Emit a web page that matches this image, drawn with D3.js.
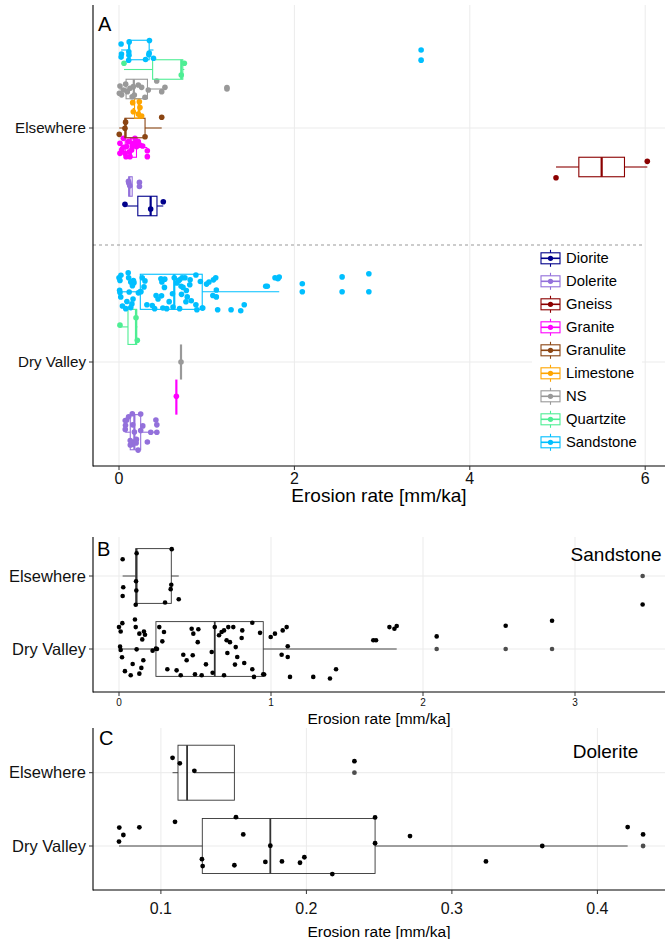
<!DOCTYPE html>
<html>
<head>
<meta charset="utf-8">
<script src="https://cdn.jsdelivr.net/npm/d3@7"></script>
<style>
  body { margin: 0; background: #fff; }
  svg { display: block; font-family: "Liberation Sans", Arial, sans-serif; }
</style>
</head>
<body>
<svg id="chart" width="665" height="939"></svg>
<script>
// category positions on the (flipped) y axis: Dry Valley = 1, Elsewhere = 2
const locations = ["Dry Valley", "Elsewhere"];
const rocks = ["Diorite", "Dolerite", "Gneiss", "Granite", "Granulite", "Limestone", "NS", "Quartzite", "Sandstone"];
const rockColors = ["#00008B", "#9370DB", "#8B0000", "#FF00FF", "#8B4513", "#FFA500", "#999999", "#4EEE94", "#00BFFF"];

const ticksA = [0, 2, 4, 6];
const ticksB = [0, 1, 2, 3];
const ticksC = [0.1, 0.2, 0.3, 0.4];

// erosion rates [mm/ka], with jitter offsets (fraction of the box half height)
const dioriteEW = [0.068, 0.361, 0.505];
const dioriteEWJitter = [-0.17, 0.31, -0.44];

const doleriteEW = [0.108, 0.113, 0.123, 0.233];
const doleriteEWJitter = [-0.54, -0.34, -0.07, -0.42];

const gneissEW = [4.983, 6.024];
const gneissEWJitter = [1.1, -0.58];

const graniteEW = [0.011, 0.030, 0.049, 0.068, 0.087, 0.106, 0.125, 0.144, 0.163, 0.182, 0.201,
  0.220, 0.239, 0.270, 0.323, 0.323, 0.011, 0.049, 0.118, 0.156, 0.194, 0.080];
const graniteEWJitter = [-0.43, 0.26, -0.94, 0.6, -0.09, -0.6, 0.94, 0.26, -0.43, -0.94, -0.09,
  -0.6, -0.26, -0.15, 0.33, 0.94, 0.6, -0.02, 0.43, -0.09, -0.6, 0.94];

const granuliteEW = [0.003, 0.068, 0.075, 0.297, 0.487];
const granuliteEWJitter = [0.65, 0.03, -0.6, 0.89, -1.1];

const limestoneEW = [0.156, 0.232, 0.239, 0.163, 0.258, 0.220];
const limestoneEWJitter = [-0.6, -0.7, -0.09, 0.33, 0.77, 0.56];

const nsEW = [0.004, 0.011, 0.030, 0.049, 0.076, 0.095, 0.125, 0.150, 0.163, 0.175, 0.220,
  0.258, 0.296, 0.334, 0.430, 0.487, 0.524, 1.231];
const nsEWJitter = [0.44, -0.31, 0.6, 0.10, -0.5, 0.27, -0.07, 0.8, -0.24, 0.62, -0.41,
  -0.17, 0.85, 0.10, -0.82, 0.27, -0.17, -0.15];

const quartziteEW = [0.057, 0.710, 0.745];
const quartziteEWJitter = [-0.64, 0.56, -0.64];

const sandstoneEW = [0.024, 0.116, 0.347, 0.028, 0.024, 0.112, 0.114, 0.110, 0.344, 0.340, 0.303, 0.393, 3.445];
const sandstoneEWJitter = [-0.61, -0.83, -0.98, 0.41, 0.73, 0.19, 0.53, 1.05, 0.32, 0.48, 0.97, 0.85, 1.04];

const doleriteDV = [0.0714, 0.0742, 0.0712, 0.0852, 0.1097, 0.1282, 0.1287, 0.1516, 0.1566, 0.1505, 0.1718,
  0.1752, 0.1832, 0.1956, 0.1986, 0.2178, 0.2472, 0.2472, 0.2712, 0.3234, 0.3621, 0.4208, 0.4314];
const doleriteDVJitter = [-0.67, -0.40, -0.16, -0.68, -0.88, 0.48, 0.73, -1.05, -0.42, 0.70, 0.58,
  -0.01, 0.56, 0.61, 0.41, 1.02, -1.04, -0.10, -0.36, 0.56, 0.0, -0.69, -0.42];

const graniteDV = [0.654];
const graniteDVJitter = [-0.05];

const nsDV = [0.707];
const nsDVJitter = [0];

const quartziteDV = [0.011, 0.194, 0.209];
const quartziteDVJitter = [-0.1, -0.52, 0.76];

const sandstoneDV = [0.022, 0.0, 0.011, 0.105, 0.110, 0.134, 0.164, 0.153, 0.171, 0.007, 0.011, 0.116, 0.221,
  0.243, 0.285, 0.160, 0.147, 0.134, 0.039, 0.077, 0.265, 0.296, 0.478, 0.522, 0.489, 0.518, 0.423, 0.485,
  0.445, 0.610, 0.572, 0.318, 0.379, 0.406, 0.500, 0.544, 0.616, 0.630, 0.658, 0.675, 0.691, 0.719, 0.752,
  0.811, 0.877, 0.807, 0.928, 0.708, 0.730, 0.768, 0.713, 0.778, 0.824, 0.763, 0.877, 0.691, 0.888, 0.949,
  0.955, 0.998, 1.026, 1.077, 1.103, 1.110, 1.070, 1.110, 1.125, 1.278, 1.388, 1.428, 1.673, 1.691, 1.779,
  1.812, 1.827, 2.090, 2.544, 2.849, 0.020, 0.090, 0.250];
const sandstoneDVJitter = [-0.945, -0.80, -0.64, -1.08, -0.80, -0.56, -0.64, -0.35, -0.52, -0.085, 0.036, 0.012, 0.06,
  -0.012, -0.28, 0.41, 0.69, 0.90, 0.81, 0.96, -0.80, -0.62, -0.74, -0.72, -0.56, -0.25, 0.21, 0.23,
  0.41, 0.11, 0.56, 0.74, 0.78, 0.96, 0.92, 0.96, 0.87, -0.80, -0.50, -0.62, -0.68, -0.80, -0.80,
  -0.68, -0.96, -0.40, -0.59, -0.32, -0.25, -0.07, 0.145, 0.29, 0.51, 0.57, 0.74, 0.96, 1.02, 0.92,
  0.93, -0.44, -0.56, -0.68, -0.80, -0.10, 0.21, 0.29, 1.02, 1.02, 1.08, 0.74, -0.32, -0.32, -0.80,
  -0.74, -0.84, -0.46, -0.85, -1.03, 0.30, 0.55, 0.0];

const groups = [
  { loc: "Elsewhere", rock: "Diorite", values: dioriteEW, jitter: dioriteEWJitter },
  { loc: "Elsewhere", rock: "Dolerite", values: doleriteEW, jitter: doleriteEWJitter },
  { loc: "Elsewhere", rock: "Gneiss", values: gneissEW, jitter: gneissEWJitter },
  { loc: "Elsewhere", rock: "Granite", values: graniteEW, jitter: graniteEWJitter },
  { loc: "Elsewhere", rock: "Granulite", values: granuliteEW, jitter: granuliteEWJitter },
  { loc: "Elsewhere", rock: "Limestone", values: limestoneEW, jitter: limestoneEWJitter },
  { loc: "Elsewhere", rock: "NS", values: nsEW, jitter: nsEWJitter },
  { loc: "Elsewhere", rock: "Quartzite", values: quartziteEW, jitter: quartziteEWJitter },
  { loc: "Elsewhere", rock: "Sandstone", values: sandstoneEW, jitter: sandstoneEWJitter },
  { loc: "Dry Valley", rock: "Dolerite", values: doleriteDV, jitter: doleriteDVJitter },
  { loc: "Dry Valley", rock: "Granite", values: graniteDV, jitter: graniteDVJitter },
  { loc: "Dry Valley", rock: "NS", values: nsDV, jitter: nsDVJitter },
  { loc: "Dry Valley", rock: "Quartzite", values: quartziteDV, jitter: quartziteDVJitter },
  { loc: "Dry Valley", rock: "Sandstone", values: sandstoneDV, jitter: sandstoneDVJitter }
];

// ggplot style box stats (type 7 quantiles, 1.5 IQR whiskers)
function boxStats(values) {
  const s = values.slice().sort(d3.ascending);
  const q1 = d3.quantile(s, 0.25), med = d3.quantile(s, 0.5), q3 = d3.quantile(s, 0.75);
  const iqr = q3 - q1;
  const inside = s.filter(v => v >= q1 - 1.5 * iqr && v <= q3 + 1.5 * iqr);
  return {
    q1: q1, med: med, q3: q3,
    lo: d3.min(inside), hi: d3.max(inside),
    out: s.filter(v => v < q1 - 1.5 * iqr || v > q3 + 1.5 * iqr)
  };
}

const svg = d3.select("#chart");
const color = d3.scaleOrdinal().domain(rocks).range(rockColors);
const locPos = loc => locations.indexOf(loc) + 1;

function drawPanel(p) {
  const g = svg.append("g");
  const x = p.x, y = p.y;

  // grid
  g.selectAll(".vgrid").data(p.ticks).join("line")
    .attr("x1", d => x(d)).attr("x2", d => x(d))
    .attr("y1", p.top).attr("y2", p.bottom)
    .attr("stroke", "#ebebeb").attr("stroke-width", 1);
  g.selectAll(".hgrid").data([1, 2]).join("line")
    .attr("x1", p.left).attr("x2", p.right)
    .attr("y1", d => y(d)).attr("y2", d => y(d))
    .attr("stroke", "#ebebeb").attr("stroke-width", 1);

  if (p.extra) p.extra(g);

  // boxes
  p.groups.forEach(grp => {
    const present = p.groups.filter(o => o.loc === grp.loc);
    const n = present.length, i = present.indexOf(grp);
    const slot = 0.75 / n;
    const cPos = locPos(grp.loc) - 0.375 + (i + 0.5) * slot;
    const cy = y(cPos);
    const half = Math.abs(y(cPos + slot / 2) - cy);
    const st = boxStats(grp.values);
    const col = p.colored ? color(grp.rock) : "#333333";
    const bg = g.append("g");

    bg.append("line").attr("x1", x(st.lo)).attr("x2", x(st.q1)).attr("y1", cy).attr("y2", cy)
      .attr("stroke", col).attr("stroke-width", p.lw);
    bg.append("line").attr("x1", x(st.q3)).attr("x2", x(st.hi)).attr("y1", cy).attr("y2", cy)
      .attr("stroke", col).attr("stroke-width", p.lw);
    bg.append("rect")
      .attr("x", x(st.q1)).attr("y", cy - half)
      .attr("width", Math.max(0, x(st.q3) - x(st.q1))).attr("height", 2 * half)
      .attr("fill", "none").attr("stroke", col).attr("stroke-width", p.lw);
    bg.append("line").attr("x1", x(st.med)).attr("x2", x(st.med))
      .attr("y1", cy - half).attr("y2", cy + half)
      .attr("stroke", col).attr("stroke-width", p.lw * 2);
    bg.selectAll("circle.out").data(st.out).join("circle")
      .attr("cx", d => x(d)).attr("cy", cy).attr("r", p.r)
      .attr("fill", p.colored ? col : "#4d4d4d");

    bg.selectAll("circle.pt").data(grp.values).join("circle")
      .attr("cx", d => x(d))
      .attr("cy", (d, k) => cy + grp.jitter[k] * half)
      .attr("r", p.r)
      .attr("fill", p.colored ? col : "#000");
  });

  // axes
  g.append("line").attr("x1", p.left).attr("x2", p.left).attr("y1", p.top).attr("y2", p.bottom + 0.5)
    .attr("stroke", "#000").attr("stroke-width", 1.1);
  g.append("line").attr("x1", p.left).attr("x2", p.right).attr("y1", p.bottom).attr("y2", p.bottom)
    .attr("stroke", "#000").attr("stroke-width", 1.1);

  g.selectAll(".ytick").data(locations).join("line")
    .attr("x1", p.left - 4).attr("x2", p.left)
    .attr("y1", d => y(locPos(d))).attr("y2", d => y(locPos(d)))
    .attr("stroke", "#333").attr("stroke-width", 1);
  g.selectAll(".ylab").data(locations).join("text")
    .attr("x", p.left - 7).attr("y", d => y(locPos(d)))
    .attr("dy", "0.35em").attr("text-anchor", "end")
    .attr("font-size", p.yFont).attr("fill", "#111")
    .text(d => d);

  g.selectAll(".xtick").data(p.ticks).join("line")
    .attr("x1", d => x(d)).attr("x2", d => x(d))
    .attr("y1", p.bottom).attr("y2", p.bottom + 4)
    .attr("stroke", "#333").attr("stroke-width", 1);
  g.selectAll(".xlab").data(p.ticks).join("text")
    .attr("x", d => x(d)).attr("y", p.bottom + p.xLabOff)
    .attr("text-anchor", "middle")
    .attr("font-size", p.xFont).attr("fill", "#111")
    .text(p.fmt);
  g.append("text")
    .attr("x", (p.left + p.right) / 2).attr("y", p.bottom + p.titleOff)
    .attr("text-anchor", "middle").attr("font-size", p.titleFont).attr("fill", "#000")
    .text("Erosion rate [mm/ka]");

  g.append("text").attr("x", p.tagX).attr("y", p.tagY)
    .attr("font-size", 20).attr("fill", "#000").text(p.tag);

  if (p.note) {
    g.append("text").attr("x", x(p.note.x)).attr("y", y(p.note.y))
      .attr("dy", "0.35em").attr("text-anchor", "middle")
      .attr("font-size", 19).attr("fill", "#000").text(p.note.text);
  }
}

// Panel A: all rock types
const xA = d3.scaleLinear().domain([0, 6]).range([119, 645.2]);
const yA = d3.scaleLinear().domain([1, 2]).range([362, 128]);
drawPanel({
  x: xA, y: yA, left: 93, right: 665, top: 5, bottom: 466,
  ticks: ticksA, fmt: d => d, groups: groups, colored: true,
  r: 2.8, lw: 1.1, yFont: 15.2, xFont: 16, xLabOff: 18, titleOff: 36, titleFont: 19,
  tag: "A", tagX: 98, tagY: 31,
  extra: g => {
    g.append("line").attr("x1", 93).attr("x2", xA(5.97)).attr("y1", yA(1.5)).attr("y2", yA(1.5))
      .attr("stroke", "#999").attr("stroke-width", 1).attr("stroke-dasharray", "3,3");
  }
});

// legend for A
const legend = svg.append("g");
legend.append("rect").attr("x", 532).attr("y", 249).attr("width", 110).attr("height", 210).attr("fill", "#fff");
rocks.forEach((rock, i) => {
  const cy = 258.3 + i * 23, cx = 550.5, c = color(rock);
  const k = legend.append("g");
  k.append("line").attr("x1", cx).attr("x2", cx).attr("y1", cy - 8.5).attr("y2", cy + 8.5)
    .attr("stroke", c).attr("stroke-width", 1.1);
  k.append("rect").attr("x", cx - 9.5).attr("y", cy - 5.5).attr("width", 19).attr("height", 11)
    .attr("fill", "#fff").attr("stroke", c).attr("stroke-width", 1.1);
  k.append("line").attr("x1", cx - 9.5).attr("x2", cx + 9.5).attr("y1", cy).attr("y2", cy)
    .attr("stroke", c).attr("stroke-width", 1.6);
  k.append("circle").attr("cx", cx).attr("cy", cy).attr("r", 2.6).attr("fill", c);
  legend.append("text").attr("x", 566).attr("y", cy).attr("dy", "0.35em")
    .attr("font-size", 14.8).attr("fill", "#000").text(rock);
});

// Panel B: sandstone only
const xB = d3.scaleLinear().domain([0, 3]).range([119, 575]);
const yB = d3.scaleLinear().domain([1, 2]).range([649, 576]);
drawPanel({
  x: xB, y: yB, left: 93, right: 665, top: 537, bottom: 692,
  ticks: ticksB, fmt: d => d, groups: groups.filter(d => d.rock === "Sandstone"), colored: false,
  r: 2.3, lw: 0.9, yFont: 16.5, xFont: 10, xLabOff: 14, titleOff: 32, titleFont: 15.5,
  tag: "B", tagX: 97, tagY: 556,
  note: { x: 3.27, y: 2.29, text: "Sandstone" }
});

// Panel C: dolerite only
const xC = d3.scaleLinear().domain([0.1, 0.4]).range([160.9, 597.4]);
const yC = d3.scaleLinear().domain([1, 2]).range([846, 772.7]);
drawPanel({
  x: xC, y: yC, left: 93, right: 665, top: 728, bottom: 890,
  ticks: ticksC, fmt: d3.format(".1f"), groups: groups.filter(d => d.rock === "Dolerite"), colored: false,
  r: 2.4, lw: 0.9, yFont: 16.5, xFont: 16, xLabOff: 24, titleOff: 47, titleFont: 15.5,
  tag: "C", tagX: 99, tagY: 745,
  note: { x: 0.4056, y: 2.29, text: "Dolerite" }
});
</script>
</body>
</html>
